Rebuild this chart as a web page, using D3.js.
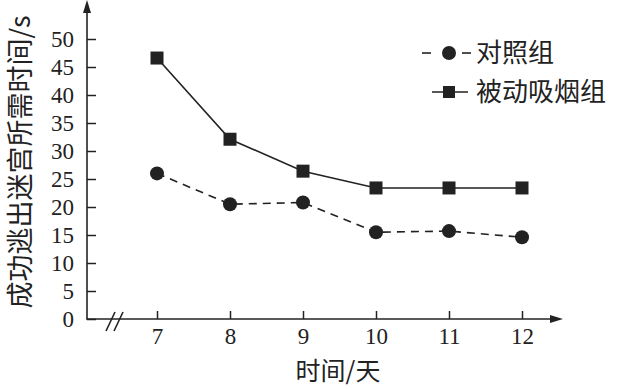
<!DOCTYPE html>
<html>
<head>
<meta charset="utf-8">
<script src="https://cdn.jsdelivr.net/npm/d3@7"></script>
<style>
  body { margin: 0; background: #fff; }
  svg { display: block; }
  .num text { font-family: "Liberation Serif", "DejaVu Serif", serif; font-size: 23px; fill: #222; }
  .cjk { font-family: "Noto Sans CJK SC", sans-serif; fill: #222; }
</style>
</head>
<body>
<div id="chart"></div>
<script>
// data
const days = [7, 8, 9, 10, 11, 12]
const controlGroup = [26, 20.5, 20.8, 15.5, 15.7, 14.6]
const smokeGroup = [46.6, 32.1, 26.4, 23.4, 23.4, 23.4]
const yTicks = [0, 5, 10, 15, 20, 25, 30, 35, 40, 45, 50]
const seriesNames = ['对照组', '被动吸烟组']

const width = 619
const height = 389
const ink = '#222'

const svg = d3.select('#chart').append('svg').attr('width', width).attr('height', height)

// scales
const xScale = d3.scaleLinear().domain([7, 12]).range([157, 522])
const yScale = d3.scaleLinear().domain([0, 50]).range([319, 39])
const originX = 87
const originY = yScale(0)

// axes
const yAxis = d3.axisLeft(yScale).tickValues(yTicks).tickSize(-9).tickPadding(13)
const yAxisGroup = svg.append('g').attr('class', 'num').attr('transform', `translate(${originX},0)`).call(yAxis)
yAxisGroup.select('.domain').remove()
yAxisGroup.selectAll('line').attr('stroke', ink).attr('stroke-width', 1.5)

const xAxis = d3.axisBottom(xScale).tickValues(days).tickFormat(d3.format('d')).tickSize(-8).tickPadding(9)
const xAxisGroup = svg.append('g').attr('class', 'num').attr('transform', `translate(0,${originY})`).call(xAxis)
xAxisGroup.select('.domain').remove()
xAxisGroup.selectAll('line').attr('stroke', ink).attr('stroke-width', 1.5)

// axis lines with arrows
svg.append('line').attr('x1', originX).attr('y1', originY).attr('x2', originX).attr('y2', 8)
  .attr('stroke', ink).attr('stroke-width', 1.6)
svg.append('path').attr('d', `M${originX},0 L${originX - 4},13 L${originX + 4},13 Z`).attr('fill', ink)
svg.append('line').attr('x1', originX - 0.8).attr('y1', originY).attr('x2', 553).attr('y2', originY)
  .attr('stroke', ink).attr('stroke-width', 1.6)
svg.append('path').attr('d', `M563,${originY} L550,${originY - 4} L550,${originY + 4} Z`).attr('fill', ink)

// axis break
const brk = svg.append('g').attr('stroke', ink).attr('stroke-width', 1.6)
brk.append('line').attr('x1', 106).attr('y1', originY + 12).attr('x2', 115).attr('y2', originY - 7)
brk.append('line').attr('x1', 114).attr('y1', originY + 12).attr('x2', 123).attr('y2', originY - 7)

// lines
const line = (vals) => d3.line().x((d, i) => xScale(days[i])).y((d) => yScale(d))(vals)

svg.append('path').attr('d', line(smokeGroup)).attr('fill', 'none').attr('stroke', ink).attr('stroke-width', 1.6)
svg.append('path').attr('d', line(controlGroup)).attr('fill', 'none').attr('stroke', ink).attr('stroke-width', 1.6)
  .attr('stroke-dasharray', '8,6')

// markers
svg.selectAll('.sq').data(smokeGroup).join('rect').attr('class', 'sq')
  .attr('x', (d, i) => xScale(days[i]) - 6.5).attr('y', (d) => yScale(d) - 6.5)
  .attr('width', 13).attr('height', 13).attr('fill', ink)
svg.selectAll('.dot').data(controlGroup).join('circle').attr('class', 'dot')
  .attr('cx', (d, i) => xScale(days[i])).attr('cy', (d) => yScale(d)).attr('r', 7).attr('fill', ink)

// legend
const lg = svg.append('g')
lg.append('line').attr('x1', 422).attr('x2', 431).attr('y1', 53).attr('y2', 53).attr('stroke', ink).attr('stroke-width', 1.6)
lg.append('line').attr('x1', 462).attr('x2', 471).attr('y1', 53).attr('y2', 53).attr('stroke', ink).attr('stroke-width', 1.6)
lg.append('circle').attr('cx', 449).attr('cy', 53).attr('r', 7).attr('fill', ink)
lg.append('line').attr('x1', 432).attr('x2', 468).attr('y1', 92).attr('y2', 92).attr('stroke', ink).attr('stroke-width', 1.6)
lg.append('rect').attr('x', 443).attr('y', 86).attr('width', 12).attr('height', 12).attr('fill', ink)
lg.append('text').attr('class', 'cjk').attr('x', 476).attr('y', 62).style('font-size', '26px').text(seriesNames[0])
lg.append('text').attr('class', 'cjk').attr('x', 476).attr('y', 101).style('font-size', '26px').text(seriesNames[1])

// axis titles
svg.append('text').attr('class', 'cjk').attr('text-anchor', 'middle')
  .attr('transform', 'translate(30,162) rotate(-90)').style('font-size', '27px')
  .text('成功逃出迷宫所需时间/s')
svg.append('text').attr('class', 'cjk').attr('text-anchor', 'middle')
  .attr('x', 338).attr('y', 380).style('font-size', '25px').text('时间/天')
</script>
</body>
</html>
